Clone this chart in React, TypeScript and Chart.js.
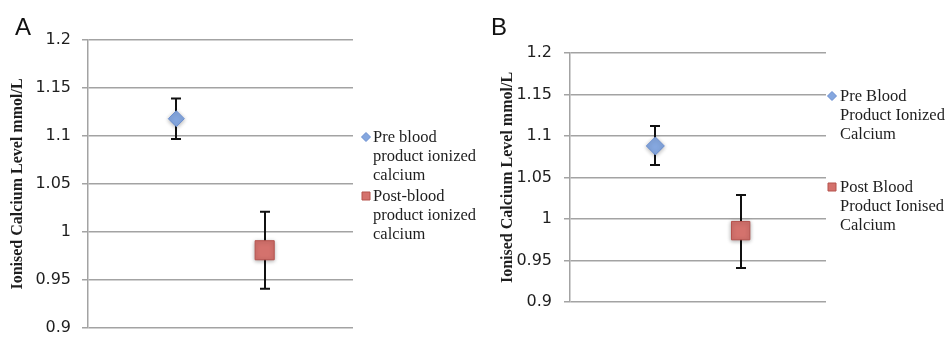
import React, { useEffect, useRef } from 'react';
import { Chart, registerables } from 'chart.js';

Chart.register(...registerables);

// ---------- data ----------
const xPositions = [1, 2]; // Pre, Post
const yTickLabels = ['0.9', '0.95', '1', '1.05', '1.1', '1.15', '1.2'];
const yTitle = 'Ionised Calcium Level mmol/L';

// Panel A
const panelAMeans = [1.118, 0.981];
const panelALow = [1.097, 0.941];
const panelAHigh = [1.139, 1.021];
const panelALegend = [
  ['Pre blood', 'product ionized', 'calcium'],
  ['Post-blood', 'product ionized', 'calcium'],
];

// Panel B
const panelBMeans = [1.088, 0.986];
const panelBLow = [1.065, 0.941];
const panelBHigh = [1.112, 1.029];
const panelBLegend = [
  ['Pre Blood', 'Product Ionized', 'Calcium'],
  ['Post Blood', 'Product Ionised', 'Calcium'],
];

// ---------- styles ----------
const GRID = '#a3a3a3';
const TEXT = '#1e1e1e';
const BLUE = '#85a7df';
const BLUE_EDGE = '#6a8ed0';
const RED = '#d4726d';
const RED_EDGE = '#b5524d';

const errorBarPlugin = {
  id: 'errorBars',
  beforeDatasetsDraw(chart: any) {
    const { ctx } = chart;
    const y = chart.scales.y;
    ctx.save();
    ctx.strokeStyle = '#111';
    ctx.lineWidth = 2;
    chart.data.datasets.forEach((ds: any, di: number) => {
      const meta = chart.getDatasetMeta(di);
      ds.data.forEach((pt: any, pi: number) => {
        const el = meta.data[pi];
        if (!el) return;
        const x = Math.round(el.x);
        const top = y.getPixelForValue(pt.yMax);
        const bot = y.getPixelForValue(pt.yMin);
        ctx.beginPath();
        ctx.moveTo(x, top);
        ctx.lineTo(x, bot);
        ctx.moveTo(x - 5, top);
        ctx.lineTo(x + 5, top);
        ctx.moveTo(x - 5, bot);
        ctx.lineTo(x + 5, bot);
        ctx.stroke();
      });
    });
    ctx.restore();
    ctx.save();
    ctx.shadowColor = 'rgba(0,0,0,0.3)';
    ctx.shadowBlur = 4;
    ctx.shadowOffsetY = 1;
  },
  afterDatasetsDraw(chart: any) {
    chart.ctx.restore();
  },
};

const sideLegendPlugin = {
  id: 'sideLegend',
  afterDraw(chart: any, _args: any, opts: any) {
    const { ctx, chartArea } = chart;
    ctx.save();
    ctx.font = opts.font;
    ctx.textBaseline = 'middle';
    ctx.textAlign = 'left';
    chart.data.datasets.forEach((ds: any, i: number) => {
      const y0 = opts.itemY[i];
      const mx = chartArea.right + opts.markerDx;
      const my = y0 - 1;
      ctx.fillStyle = ds.backgroundColor;
      ctx.strokeStyle = ds.borderColor;
      ctx.lineWidth = 1;
      ctx.beginPath();
      if (ds.pointStyle === 'rectRot') {
        const r = 4.5;
        ctx.moveTo(mx, my - r);
        ctx.lineTo(mx + r, my);
        ctx.lineTo(mx, my + r);
        ctx.lineTo(mx - r, my);
        ctx.closePath();
      } else {
        ctx.rect(mx - 4, my - 4, 8, 8);
      }
      ctx.fill();
      ctx.stroke();
      ctx.fillStyle = TEXT;
      const lines: string[] = ds.label;
      lines.forEach((line, li) => {
        ctx.fillText(line, chartArea.right + opts.textDx, y0 + li * opts.lineHeight);
      });
    });
    ctx.restore();
  },
};

const yTickValues = yTickLabels.map((l) => parseFloat(l));

function makeConfig(p: any) {
  return {
    type: 'scatter',
    data: {
      datasets: [
        {
          label: p.legend[0],
          data: [{ x: xPositions[0], y: p.means[0], yMin: p.low[0], yMax: p.high[0] }],
          pointStyle: 'rectRot',
          pointRadius: p.diamondR,
          backgroundColor: BLUE,
          borderColor: BLUE_EDGE,
          borderWidth: 1,
        },
        {
          label: p.legend[1],
          data: [{ x: xPositions[1], y: p.means[1], yMin: p.low[1], yMax: p.high[1] }],
          pointStyle: 'rect',
          pointRadius: p.squareR,
          backgroundColor: RED,
          borderColor: RED_EDGE,
          borderWidth: 1,
        },
      ],
    },
    options: {
      responsive: false,
      animation: false,
      events: [],
      layout: { padding: p.padding, autoPadding: false },
      scales: {
        x: { type: 'linear', min: 0, max: 3, display: false },
        y: {
          type: 'linear',
          min: 0.9,
          max: 1.2,
          afterFit(scale: any) {
            scale.width = p.axisWidth;
            scale.paddingTop = 0;
            scale.paddingBottom = 0;
          },
          afterBuildTicks(scale: any) {
            scale.ticks = yTickValues.map((v) => ({ value: v }));
          },
          ticks: {
            padding: p.tickPad,
            color: TEXT,
            font: { family: 'DejaVu Sans', size: 16 },
            callback: (v: number) => {
              const l = yTickLabels.find((t) => Math.abs(parseFloat(t) - v) < 1e-6);
              return l ?? '';
            },
          },
          grid: { color: GRID, lineWidth: 1.5, tickLength: 6, drawTicks: true },
          border: { display: true, color: GRID, width: 1.5 },
          title: {
            display: true,
            text: yTitle,
            color: TEXT,
            font: { family: 'Liberation Serif', size: 16, weight: 'bold' },
            padding: { top: p.titlePad, bottom: 0 },
          },
        },
      },
      plugins: {
        legend: { display: false },
        tooltip: { enabled: false },
        sideLegend: {
          font: '16.5px "Liberation Serif"',
          markerDx: p.markerDx,
          textDx: p.textDx,
          itemY: p.itemY,
          lineHeight: p.lineHeight,
        },
      },
    },
    plugins: [errorBarPlugin, sideLegendPlugin],
  };
}

const panelA = {
  means: panelAMeans,
  low: panelALow,
  high: panelAHigh,
  legend: panelALegend,
  width: 480,
  left: 0,
  padding: { left: 0, top: 40, right: 127, bottom: 10 },
  axisWidth: 88,
  tickPad: 11,
  titlePad: 8.4,
  diamondR: 8,
  squareR: 13.5,
  markerDx: 13,
  textDx: 20,
  itemY: [138, 197],
  lineHeight: 19,
};

const panelB = {
  means: panelBMeans,
  low: panelBLow,
  high: panelBHigh,
  legend: panelBLegend,
  width: 468,
  left: 480,
  padding: { left: 0, top: 53, right: 122, bottom: 36 },
  axisWidth: 90,
  tickPad: 12,
  titlePad: 18.4,
  diamondR: 9,
  squareR: 13,
  markerDx: 6,
  textDx: 14,
  itemY: [97, 188],
  lineHeight: 18.7,
};

function Panel({ p, letter, letterLeft }: { p: any; letter: string; letterLeft: number }) {
  const ref = useRef<HTMLCanvasElement | null>(null);
  useEffect(() => {
    if (!ref.current) return;
    const chart = new Chart(ref.current, makeConfig(p) as any);
    return () => chart.destroy();
  }, []);
  return (
    <div style={{ position: 'absolute', left: p.left, top: 0, width: p.width, height: 338 }}>
      <canvas ref={ref} width={p.width} height={338} style={{ display: 'block' }} />
      <div
        style={{
          position: 'absolute',
          left: letterLeft,
          top: 15,
          fontFamily: '"Liberation Sans", Arial, sans-serif',
          fontSize: 24,
          lineHeight: '24px',
          color: '#111',
        }}
      >
        {letter}
      </div>
    </div>
  );
}

export default function App() {
  return (
    <div style={{ position: 'fixed', left: 0, top: 0, width: 948, height: 338, background: '#fff' }}>
      <Panel p={panelA} letter="A" letterLeft={15} />
      <Panel p={panelB} letter="B" letterLeft={11} />
    </div>
  );
}
